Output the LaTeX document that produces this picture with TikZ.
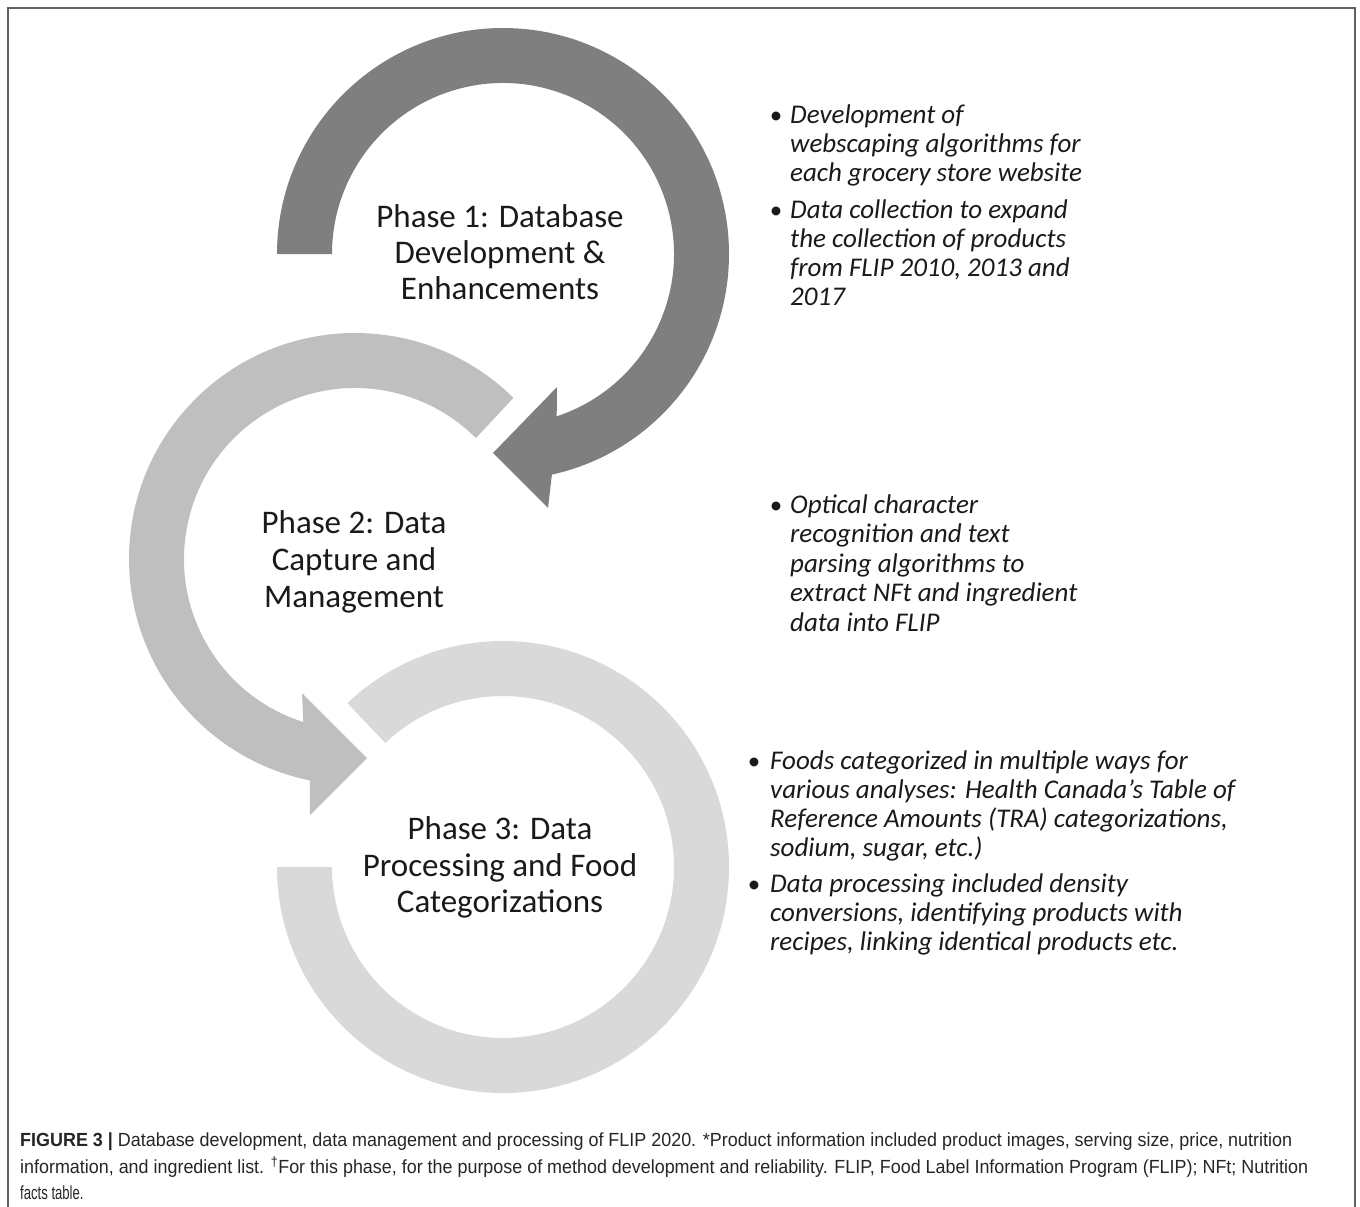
\documentclass[tikz,border=0pt]{standalone}
\usepackage{fontspec}
\usepackage{graphicx}
\setmainfont{Carlito}
\newfontfamily\capfont{Liberation Sans}
\usetikzlibrary{calc}
\definecolor{ringA}{HTML}{7F7F7F}
\definecolor{ringB}{HTML}{BFBFBF}
\definecolor{ringC}{HTML}{D9D9D9}
\definecolor{framecol}{HTML}{606060}
\definecolor{txt}{HTML}{1A1A1A}
\begin{document}
\begin{tikzpicture}[x=1pt,y=-1pt,
  phase/.style={font=\fontsize{33}{37}\selectfont, text=txt, inner sep=0pt, anchor=base},
  bul/.style={font=\fontsize{27}{29}\selectfont\itshape, text=txt, inner sep=0pt, anchor=base west},
  dotmark/.style={font=\fontsize{25}{29}\selectfont, text=txt, inner sep=0pt, anchor=base},
  capline/.style={font=\capfont\fontsize{19}{24}\selectfont, text=black!85, inner sep=0pt, anchor=base west},
  framestyle/.style={draw=framecol, line width=2pt}]
\useasboundingbox (0,0) rectangle (1360,1207);
\fill[white] (0,0) rectangle (1360,1207);
% frame
\draw[framestyle] (8,1207) -- (8,8) -- (1355,8) -- (1355,1207);
% centres
\coordinate (c1) at (503,254);
\coordinate (c2) at (355,559);
\coordinate (c3) at (503,867);
% ring 3
\fill[ringC] ($(c3)+(180:226)$) arc[start angle=180, end angle=-133.5, radius=226]
  -- ($(c3)+(-133.5:171)$) arc[start angle=-133.5, end angle=180, radius=171] -- cycle;
% ring 2 with arrow head
\fill[ringB] ($(c2)+(-45.5:226)$) arc[start angle=-45.5, end angle=-258.5, radius=226]
  -- (310,815) -- (367,758) -- (302,693)
  -- ($(c2)+(-252.4:171)$) arc[start angle=-252.4, end angle=-45, radius=171] -- cycle;
% ring 1 with arrow head
\fill[ringA] ($(c1)+(180:226)$) arc[start angle=180, end angle=437.5, radius=226]
  -- (548,508) -- (493,453) -- (557,387)
  -- ($(c1)+(431.7:171)$) arc[start angle=431.7, end angle=180, radius=171] -- cycle;
% phase labels
\node[phase] (p1a) at (500,227) {Phase 1: Database};
\node[phase] (p1b) at (500,263) {Development \&};
\node[phase] (p1c) at (500,299) {Enhancements};
\node[phase] (p2a) at (354,533) {Phase 2: Data};
\node[phase] (p2b) at (354,570) {Capture and};
\node[phase] (p2c) at (354,607) {Management};
\node[phase] (p3a) at (500,839) {Phase 3: Data};
\node[phase] (p3b) at (500,876) {Processing and Food};
\node[phase] (p3c) at (500,912) {Categorizations};
% block 1
\node[dotmark] (d1a) at (776,123) {•};
\node[bul] (b1a) at (790,123) {Development of};
\node[bul] (b1b) at (790,152) {webscaping algorithms for};
\node[bul] (b1c) at (790,181) {each grocery store website};
\node[dotmark] (d1b) at (776,218) {•};
\node[bul] (b1d) at (790,218) {Data collection to expand};
\node[bul] (b1e) at (790,247) {the collection of products};
\node[bul] (b1f) at (790,276) {from FLIP 2010, 2013 and};
\node[bul] (b1g) at (790,305) {2017};
% block 2
\node[dotmark] (d2a) at (776,513) {•};
\node[bul] (b2a) at (790,513) {Optical character};
\node[bul] (b2b) at (790,542.5) {recognition and text};
\node[bul] (b2c) at (790,572) {parsing algorithms to};
\node[bul] (b2d) at (790,601.5) {extract NFt and ingredient};
\node[bul] (b2e) at (790,631) {data into FLIP};
% block 3
\node[dotmark] (d3a) at (754,769) {•};
\node[bul] (b3a) at (770,769) {Foods categorized in multiple ways for};
\node[bul] (b3b) at (770,798) {various analyses: Health Canada's Table of};
\node[bul] (b3c) at (770,827) {Reference Amounts (TRA) categorizations,};
\node[bul] (b3d) at (770,856) {sodium, sugar, etc.)};
\node[dotmark] (d3b) at (754,892) {•};
\node[bul] (b3e) at (770,892) {Data processing included density};
\node[bul] (b3f) at (770,921) {conversions, identifying products with};
\node[bul] (b3g) at (770,950) {recipes, linking identical products etc.};
% caption
\node[capline] (cap1) at (20,1146) {\resizebox{1272pt}{\height}{\textbf{FIGURE 3 |} Database development, data management and processing of FLIP 2020. *Product information included product images, serving size, price, nutrition}};
\node[capline] (cap2) at (20,1173) {\resizebox{1288pt}{\height}{information, and ingredient list. \textsuperscript{†}For this phase, for the purpose of method development and reliability. FLIP, Food Label Information Program (FLIP); NFt; Nutrition}};
\node[capline] (cap3) at (20,1199) {\scalebox{0.69}[1]{facts table.}};
\end{tikzpicture}
\end{document}
